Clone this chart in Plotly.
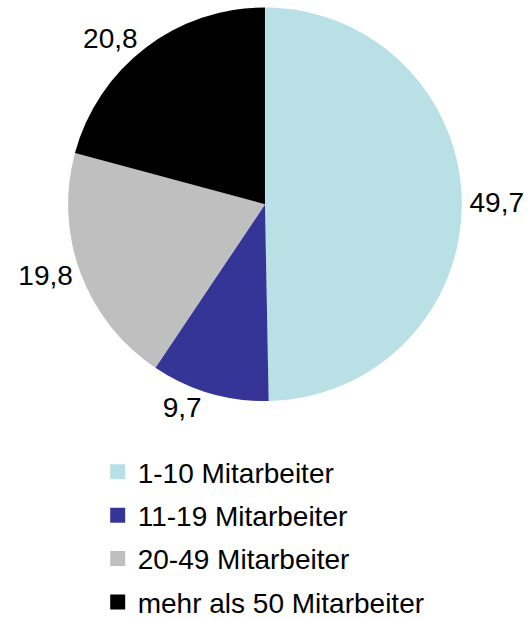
import plotly.graph_objects as go

categories = ["1-10 Mitarbeiter", "11-19 Mitarbeiter", "20-49 Mitarbeiter", "mehr als 50 Mitarbeiter"]
values = [49.7, 9.7, 19.8, 20.8]
value_labels = ["49,7", "9,7", "19,8", "20,8"]
colors = ["#b9e0e4", "#353598", "#bfbfbf", "#000000"]

FONT = "Liberation Sans, Arial, Helvetica, sans-serif"

fig = go.Figure()
fig.add_trace(go.Pie(
    values=values,
    labels=categories,
    text=value_labels,
    textinfo="text",
    textposition="outside",
    sort=False,
    direction="clockwise",
    rotation=0,
    marker=dict(colors=colors, line=dict(width=0)),
    textfont=dict(family=FONT, size=28, color="#000000"),
    showlegend=False,
    domain=dict(x=[0.0, 0.998], y=[0.352, 0.988]),
    hoverinfo="skip",
))

for i, (cat, col) in enumerate(zip(categories, colors)):
    fig.add_trace(go.Scatter(
        x=[None], y=[None], mode="markers", name=cat,
        marker=dict(symbol="square", size=15, color=col),
        legendgroup=f"g{i}", showlegend=True,
    ))

fig.update_layout(
    width=531, height=619,
    margin=dict(l=0, r=0, t=0, b=0, autoexpand=False),
    paper_bgcolor="white", plot_bgcolor="white",
    xaxis=dict(visible=False), yaxis=dict(visible=False),
    legend=dict(
        x=0.184, y=-0.013, xanchor="left", yanchor="bottom",
        font=dict(family=FONT, size=28, color="#000000"),
        tracegroupgap=4, itemwidth=30,
        bgcolor="rgba(0,0,0,0)",
    ),
)

fig.write_html("out.html", config={"displayModeBar": False},
               post_script="document.body.style.margin='0';")
